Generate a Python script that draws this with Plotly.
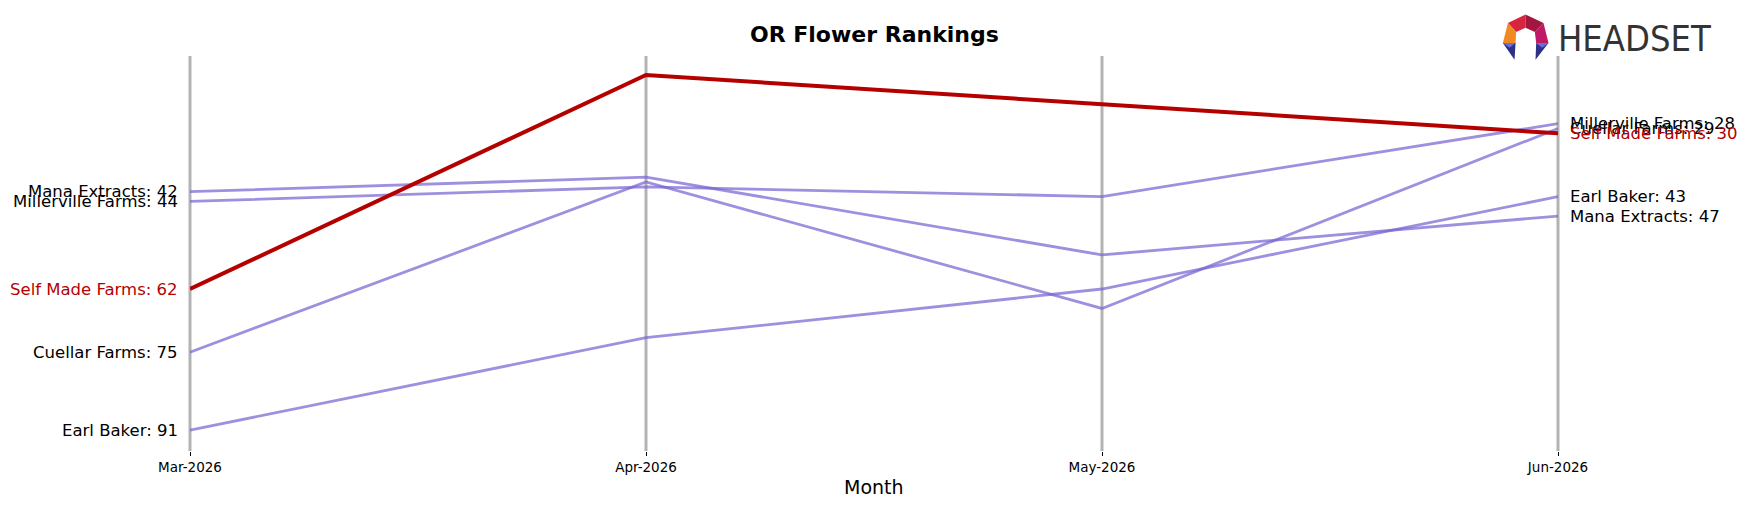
import plotly.graph_objects as go

months = ["Mar-2026", "Apr-2026", "May-2026", "Jun-2026"]
brands = ["Mana Extracts", "Millerville Farms", "Cuellar Farms", "Earl Baker", "Self Made Farms"]
mana = [42, 39, 55, 47]
millerville = [44, 41, 43, 28]
cuellar = [75, 40, 66, 29]
earl = [91, 72, 62, 43]
selfmade = [62, 18, 24, 30]
series = [mana, millerville, cuellar, earl, selfmade]
highlight = "Self Made Farms"

W, H = 1748, 507
L, R, T, B = 189.5, 1558.5, 55.7, 451.5

def px(x):
    return (x - L) / (R - L)

def py(y):
    return (B - y) / (B - T)

PURPLE = "rgba(120,100,210,0.72)"
RED = "#b50000"

fig = go.Figure()
for name, vals in zip(brands, series):
    hl = name == highlight
    fig.add_trace(go.Scatter(
        x=months, y=vals, mode="lines", name=name,
        line=dict(color=RED if hl else PURPLE, width=4 if hl else 2.8),
        showlegend=False, hoverinfo="skip", cliponaxis=False))

ann = []
for name, vals in zip(brands, series):
    col = RED if name == highlight else "black"
    ann.append(dict(x=months[0], y=vals[0], xref="x", yref="y", text=f"{name}: {vals[0]}",
                    showarrow=False, xanchor="right", yanchor="middle", xshift=-10,
                    font=dict(family="DejaVu Sans", size=16.5, color=col)))
    ann.append(dict(x=months[-1], y=vals[-1], xref="x", yref="y", text=f"{name}: {vals[-1]}",
                    showarrow=False, xanchor="left", yanchor="middle", xshift=10,
                    font=dict(family="DejaVu Sans", size=16.5, color=col)))

ann.append(dict(x=0.5, y=py(488), xref="paper", yref="paper", text="Month", showarrow=False,
                xanchor="center", yanchor="middle",
                font=dict(family="DejaVu Sans", size=19, color="black")))
ann.append(dict(x=(874 - L) / (R - L), y=py(34), xref="paper", yref="paper",
                text="<b>OR Flower Rankings</b>", showarrow=False,
                xanchor="center", yanchor="middle",
                font=dict(family="DejaVu Sans", size=22, color="black")))
ann.append(dict(x=px(1556), y=py(38), xref="paper", yref="paper", text="HEADSET",
                showarrow=False, xanchor="left", yanchor="middle",
                font=dict(family="Liberation Sans Narrow, DejaVu Sans Condensed, sans-serif",
                          size=36, color="#333333")))

shapes = []
n = len(months)
for i in range(n):
    xp = i / (n - 1)
    shapes.append(dict(type="line", xref="paper", yref="paper", x0=xp, x1=xp, y0=0, y1=1,
                       line=dict(color="#b3b3b3", width=3), layer="below"))

# logo icon pieces (coordinates in zoomed logo space)
def z(pt):
    zx, zy = pt
    return px(1490 + zx / 3), py(zy / 3)

pieces = [
    ([(55, 68), (108, 42), (108, 82), (80, 95)], "#d8253f"),
    ([(108, 42), (162, 68), (136, 95), (108, 82)], "#a3163f"),
    ([(55, 68), (80, 95), (78, 128), (40, 128)], "#f28a24"),
    ([(162, 68), (177, 128), (140, 128), (136, 95)], "#c01a66"),
    ([(40, 128), (78, 128), (75, 178)], "#2e2f86"),
    ([(40, 128), (78, 128), (60, 142)], "#6a6fd6"),
    ([(140, 128), (177, 128), (138, 178)], "#2e2f86"),
    ([(140, 128), (177, 128), (158, 142)], "#6a6fd6"),
]
for pts, col in pieces:
    cs = [z(p) for p in pts]
    path = "M " + " L ".join(f"{a:.5f},{b:.5f}" for a, b in cs) + " Z"
    shapes.append(dict(type="path", xref="paper", yref="paper", path=path,
                       fillcolor=col, line=dict(width=0), layer="above"))

fig.update_layout(
    width=W, height=H,
    margin=dict(l=L, r=W - R, t=T, b=H - B, pad=0),
    paper_bgcolor="white", plot_bgcolor="white",
    annotations=ann, shapes=shapes,
    xaxis=dict(type="category", range=[0, 3], showgrid=False,
               zeroline=False, showline=False, ticks="outside", ticklen=4, tickwidth=1,
               tickcolor="black", tickfont=dict(family="DejaVu Sans", size=13.5, color="black"),
               categoryorder="array", categoryarray=months),
    yaxis=dict(range=[95.3, 14.1], showgrid=False, zeroline=False, showticklabels=False,
               showline=False, ticks=""),
)

fig.write_html("out.html")
